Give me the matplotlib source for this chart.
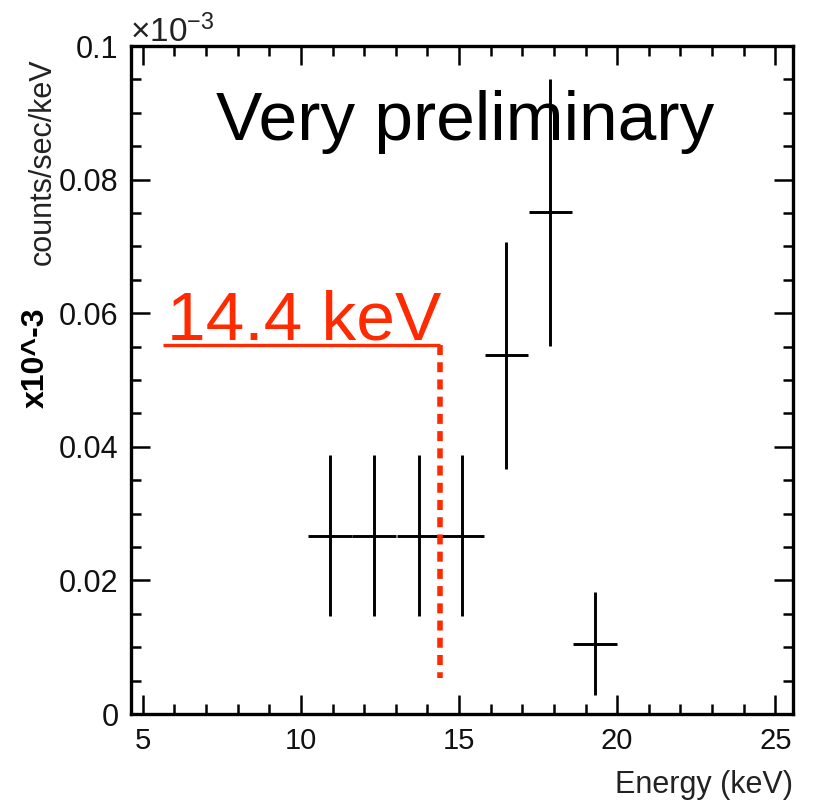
import numpy as np
import matplotlib
matplotlib.use('Agg')
import matplotlib.pyplot as plt
from matplotlib.ticker import MultipleLocator, FuncFormatter

plt.rcParams['font.family'] = ['Liberation Sans', 'DejaVu Sans']

# spectrum points (energy bin centre, rate, errors)
energy = [10.93, 12.32, 13.72, 15.10, 16.50, 17.89, 19.29]
energy_err = [0.69, 0.69, 0.69, 0.69, 0.69, 0.69, 0.69]
rate = [0.0267, 0.0267, 0.0267, 0.0267, 0.0537, 0.0751, 0.0105]
rate_err = [0.0120, 0.0120, 0.0120, 0.0120, 0.0170, 0.0200, 0.0077]

# 14.4 keV marker
line_energy = 14.4
line_level = 0.0552
line_start = 5.64
line_bottom = 0.0054

red = '#ff2a00'

fig = plt.figure(figsize=(8.21, 8.10), dpi=100)
ax = fig.add_axes([0.1596, 0.1185, 0.8063, 0.8247])

ax.errorbar(energy, rate, xerr=energy_err, yerr=rate_err, fmt='none',
            ecolor='black', elinewidth=2.1, capsize=0)

ax.plot([line_start, line_energy], [line_level, line_level], color=red,
        lw=2.4, solid_capstyle='butt')
ax.plot([line_energy, line_energy], [line_level, line_bottom], color=red,
        lw=4, linestyle=(0, (1.8, 1.3)), dash_capstyle='butt')

ax.text(5.78, 0.0561, '14.4 keV', color=red, fontsize=50, va='baseline')
ax.text(7.33, 0.0859, 'Very preliminary', color='black', fontsize=50,
        va='baseline')

ax.set_xlim(4.63, 25.56)
ax.set_ylim(0, 0.1)

ax.xaxis.set_major_locator(MultipleLocator(5))
ax.xaxis.set_minor_locator(MultipleLocator(1))
ax.yaxis.set_major_locator(MultipleLocator(0.02))
ax.yaxis.set_minor_locator(MultipleLocator(0.005))
ax.yaxis.set_major_formatter(FuncFormatter(lambda v, p: '%g' % round(v, 3)))

ax.tick_params(which='both', direction='in', top=True, right=True,
               width=1.8, color='black')
ax.tick_params(which='major', length=14)
ax.tick_params(which='minor', length=7)
ax.tick_params(axis='x', labelsize=21, pad=9, labelcolor='#111111')
ax.tick_params(axis='y', labelsize=22, pad=9, labelcolor='#111111')
for s in ax.spines.values():
    s.set_linewidth(2.4)

fig.text(0.9659, 0.031, 'Energy (keV)', ha='right', va='center',
         fontsize=22, color='#222222')
fig.text(0.052, 0.928, 'counts/sec/keV', rotation=90, ha='center', va='top',
         fontsize=22, color='#222222')
fig.text(0.044, 0.558, 'x10^-3', rotation=90, ha='center', va='center',
         fontsize=23, fontweight='bold', color='black')
fig.text(0.158, 0.948, r'$\mathregular{\times10^{-3}}$', ha='left',
         va='baseline', fontsize=24, color='#222222')

fig.savefig('out.png', dpi=100)
